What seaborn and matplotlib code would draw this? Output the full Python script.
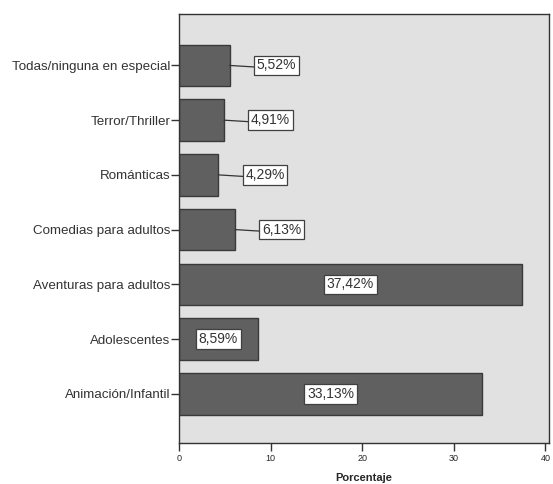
import matplotlib
matplotlib.use("Agg")
import matplotlib.pyplot as plt
import seaborn as sns
import pandas as pd

categorias = ["Todas/ninguna en especial", "Terror/Thriller", "Románticas",
              "Comedias para adultos", "Aventuras para adultos", "Adolescentes",
              "Animación/Infantil"]
porcentajes = [5.52, 4.91, 4.29, 6.13, 37.42, 8.59, 33.13]
etiquetas = ["5,52%", "4,91%", "4,29%", "6,13%", "37,42%", "8,59%", "33,13%"]
xticks = [0, 10, 20, 30, 40]

df = pd.DataFrame({"categoria": categorias, "porcentaje": porcentajes})

sns.set_style("white", {"xtick.bottom": True, "ytick.left": True})
plt.rcParams["font.family"] = ["Liberation Sans", "DejaVu Sans"]

fig = plt.figure(figsize=(5.53, 4.84), dpi=100)
ax = fig.add_axes([179 / 553, 41 / 484, 370 / 553, 429 / 484])
ax.set_facecolor("#e1e1e1")

sns.barplot(data=df, x="porcentaje", y="categoria", orient="h", ax=ax,
            color="#606060", edgecolor="#3a3a3a", linewidth=1.0,
            width=0.76, saturation=1)

# etiquetas: dentro de la barra si es grande, a la derecha con linea si es pequeña
for i, (v, txt) in enumerate(zip(porcentajes, etiquetas)):
    caja = dict(boxstyle="square,pad=0.2", fc="white", ec="#404040", lw=0.9)
    if v > 8:
        ax.text(v / 2, i, txt, ha="center", va="center", fontsize=10,
                color="#333333", bbox=caja)
    else:
        xt = v + 5.1
        ax.plot([v, xt - 2.2], [i, i + 0.03], color="#333333", lw=0.9)
        ax.text(xt, i, txt, ha="center", va="center", fontsize=10,
                color="#333333", bbox=caja)

ax.set_xlim(0, 40.4)
ax.set_ylim(6.9, -0.94)
ax.set_xticks(xticks)
ax.set_xticklabels([str(t) for t in xticks], fontsize=6.5)
ax.set_ylabel("")
ax.set_xlabel("Porcentaje", fontsize=8, fontweight="bold", labelpad=7)
ax.tick_params(axis="y", labelsize=9.6, length=6, width=1, color="#333333",
               pad=0, labelcolor="#333333")
ax.tick_params(axis="x", length=6, width=1, color="#333333", pad=2)
for s in ax.spines.values():
    s.set_color("#333333")
    s.set_linewidth(1)

fig.savefig("out.png", dpi=100)
